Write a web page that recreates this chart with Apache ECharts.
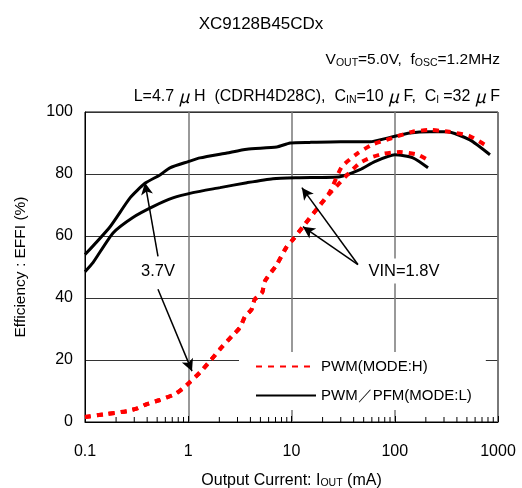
<!DOCTYPE html>
<html><head><meta charset="utf-8">
<script src="https://cdn.jsdelivr.net/npm/echarts@6/dist/echarts.min.js"></script>
<style>html,body{margin:0;padding:0;background:#fff}#c{width:522px;height:488px}</style>
</head><body><div id="c"></div>
<script>
// Efficiency (%) vs output current (mA)
const pwm37 = [[0.1,1.6],[0.163,2.6],[0.255,3.5],[0.326,4.5],[0.398,5.8],[0.532,7.1],[0.745,9],[0.87,10.6],[1.04,12.9],[1.3,16],[1.62,19.6],[2.03,23.5],[2.65,27.7],[3.17,30.5],[3.54,34],[4.1,36.3],[4.4,39.5],[5.2,41.8],[5.5,45.3],[7.2,50.8],[9.0,56.6],[10.3,58.8],[12.9,63],[18,69.1],[23.6,74.3],[30.7,82.3],[43,86.5],[60,89.4],[94,91.6],[147,93.6],[219,94.2],[335,93.6],[524,92.3],[782,89]];
const pwm18 = [[0.1,1.6],[0.163,2.6],[0.255,3.5],[0.326,4.5],[0.398,5.8],[0.532,7.1],[0.745,9],[0.87,10.6],[1.04,12.9],[1.3,16],[1.62,19.6],[2.03,23.5],[2.65,27.7],[3.17,30.5],[3.54,34],[4.1,36.3],[4.4,39.5],[5.2,41.8],[5.5,45.3],[7.2,50.8],[9.0,56.6],[10.3,58.8],[12.9,63],[18,69.1],[22.5,73],[33,79],[46,83.6],[57.5,85.2],[77,86.5],[112,87.1],[168,86.2],[219,84.2]];
const pfm37 = [[0.1,54],[0.175,63],[0.273,72.3],[0.381,77],[0.532,79.7],[0.665,82],[1.0,84],[1.3,85.2],[2.37,86.8],[3.7,88],[7.2,88.7],[9.7,90],[15,90.2],[30,90.4],[57.5,90.4],[90,91.8],[141,93.2],[219,93.6],[320,93.6],[534,91],[836,86.2]];
const pfm18 = [[0.1,48.5],[0.12,51.5],[0.187,61],[0.291,66],[0.455,69.5],[0.71,72.3],[1.11,74],[2.03,75.6],[3.7,77.2],[6.6,78.5],[12,78.8],[29.4,79.1],[46,81.4],[64,84],[100,86.2],[150,85.2],[210,82]];
const minorTicks = [0.2,0.3,0.4,0.5,0.6,0.7,0.8,0.9,2,3,4,5,6,7,8,9,20,30,40,50,60,70,80,90,200,300,400,500,600,700,800,900];
const legendNames = ['PWM(MODE:H)','PWM／PFM(MODE:L)'];
const arrows37 = [[[0.509,53.4],[0.381,77.2]],[[0.509,42.8],[1.087,16.4]]];
const arrows18 = [[[44,50.8],[12.6,75.6]],[[44,50.8],[12.9,63]]];

const F = 'Liberation Sans, Arial, sans-serif';
const chart = echarts.init(document.getElementById('c'));
const redStyle = {color:'#ff0000', width:4, type:[6,6]};
const blackStyle = {color:'#000', width:3, type:'solid'};
function arrowLines(list){
  return {silent:true, symbol:['none','arrow'], symbolSize:[9,12], label:{show:false},
    lineStyle:{color:'#000', width:1.5, type:'solid'},
    data: list.map(a=>[{coord:a[0]},{coord:a[1]}])};
}
chart.setOption({
  animation:false,
  textStyle:{fontFamily:F},
  title:{text:'XC9128B45CDx', left:'center', top:11, textStyle:{fontSize:17, fontWeight:'normal', color:'#000', fontFamily:F}},
  grid:{left:85, right:24, top:112, bottom:66, outerBoundsMode:'none', containLabel:false, show:true, borderColor:'#000', borderWidth:1, backgroundColor:'transparent'},
  legend:{data:legendNames, orient:'vertical', left:239, top:352, backgroundColor:'#fff', padding:[7,14,7,16],
    itemWidth:60, itemHeight:14, itemGap:14, itemStyle:{opacity:0}, textStyle:{fontSize:15, color:'#000', fontFamily:F}, selectedMode:false},
  xAxis:{type:'log', min:0.1, max:1000, logBase:10,
    axisLine:{show:true, lineStyle:{color:'#000'}},
    axisTick:{show:true, inside:true, length:6, lineStyle:{color:'#000'}},
    axisLabel:{fontSize:16, color:'#000', margin:22, fontFamily:F, formatter:v=>String(v)},
    splitLine:{show:true, lineStyle:{color:'#777', width:1.5}},
    name:'{a|Output Current: I}{s|OUT}{a| (mA)}', nameLocation:'middle', nameGap:50,
    nameTextStyle:{rich:{a:{fontSize:16, color:'#000', fontFamily:F}, s:{fontSize:10.5, color:'#000', fontFamily:F, padding:[6,0,0,0]}}}},
  yAxis:{type:'value', min:0, max:100, interval:20,
    axisLine:{show:true, lineStyle:{color:'#000'}}, axisTick:{show:false},
    axisLabel:{fontSize:16, color:'#000', margin:12, fontFamily:F},
    splitLine:{show:true, lineStyle:{color:'#333', width:1}},
    name:'Efficiency : EFFI (%)', nameLocation:'middle', nameGap:56,
    nameTextStyle:{fontSize:15.5, color:'#000', fontFamily:F}},
  graphic:[
    {type:'text', right:22, top:52, style:{rich:{a:{fontSize:15.5, fontFamily:F, fill:'#000'}, s:{fontSize:10.5, fontFamily:F, fill:'#000', padding:[6,0,0,0]}},
      text:'{a|V}{s|OUT}{a|=5.0V,  f}{s|OSC}{a|=1.2MHz}'}},
    {type:'text', right:22, top:88, style:{rich:{a:{fontSize:16, fontFamily:F, fill:'#000'}, m:{fontSize:17.5, fontFamily:'Noto Sans CJK JP', fontStyle:'italic', fill:'#000'}, s:{fontSize:10.5, fontFamily:F, fill:'#000', padding:[6,0,0,0]}},
      text:'{a|L=4.7 }{m|μ}{a| H  (CDRH4D28C),  C}{s|IN}{a|=10 }{m|μ}{a| F,  C}{s|l}{a| =32 }{m|μ}{a| F}'}},
    {type:'text', x:158, y:271, z:10, style:{text:'3.7V', fontSize:16.5, fontFamily:F, fill:'#000', align:'center', verticalAlign:'middle', backgroundColor:'#fff', padding:[3,2]}},
    {type:'text', x:404, y:271, z:10, style:{text:'VIN=1.8V', fontSize:16.5, fontFamily:F, fill:'#000', align:'center', verticalAlign:'middle', backgroundColor:'#fff', padding:[4,2]}}
  ],
  series:[
    {type:'custom', name:'minor', silent:true, renderItem:(p,api)=>{const c=api.coord([api.value(0),0]);return {type:'line', shape:{x1:c[0],y1:c[1],x2:c[0],y2:c[1]-5}, style:{stroke:'#000', lineWidth:1}};}, data:minorTicks.map(v=>[v]), z:1},
    {type:'line', name:legendNames[0], data:pwm37, showSymbol:false, symbol:'none', smooth:0.2, lineStyle:redStyle, itemStyle:{color:'#ff0000'}, z:3, markLine:arrowLines(arrows37)},
    {type:'line', name:legendNames[0], data:pwm18, showSymbol:false, symbol:'none', smooth:0.2, lineStyle:redStyle, itemStyle:{color:'#ff0000'}, z:3, markLine:arrowLines(arrows18)},
    {type:'line', name:legendNames[1], data:pfm37, showSymbol:false, symbol:'none', smooth:0.2, lineStyle:blackStyle, itemStyle:{color:'#000'}, z:2},
    {type:'line', name:legendNames[1], data:pfm18, showSymbol:false, symbol:'none', smooth:0.2, lineStyle:blackStyle, itemStyle:{color:'#000'}, z:2}
  ]
});
</script></body></html>
